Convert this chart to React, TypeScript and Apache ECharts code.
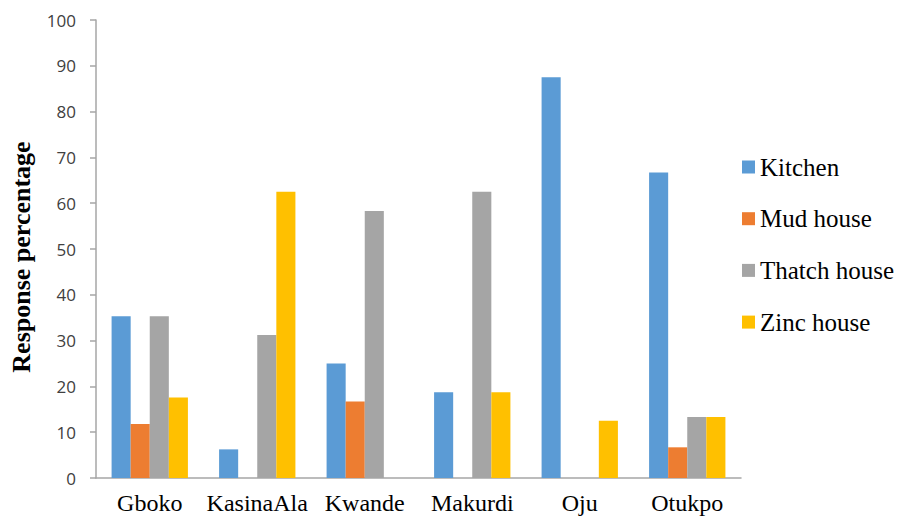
import React, { useEffect, useRef } from "react";
import * as echarts from "echarts";

const categories = ["Gboko", "KasinaAla", "Kwande", "Makurdi", "Oju", "Otukpo"];
const seriesNames = ["Kitchen", "Mud house", "Thatch house", "Zinc house"];
const kitchen = [35.3, 6.25, 25, 18.75, 87.5, 66.7];
const mudHouse = [11.8, 0, 16.7, 0, 0, 6.7];
const thatchHouse = [35.3, 31.25, 58.3, 62.5, 0, 13.3];
const zincHouse = [17.6, 62.5, 0, 18.75, 12.5, 13.3];
const colors = ["#5B9BD5", "#ED7D31", "#A5A5A5", "#FFC000"];

const serif = "Liberation Serif";

export default function App() {
  const ref = useRef<HTMLDivElement>(null);
  useEffect(() => {
    if (!ref.current) return;
    const chart = echarts.init(ref.current, undefined, { renderer: "svg" });
    const data = [kitchen, mudHouse, thatchHouse, zincHouse];
    chart.setOption({
      animation: false,
      backgroundColor: "#ffffff",
      color: colors,
      textStyle: { fontFamily: serif },
      grid: { left: 93, right: 156, top: 20, bottom: 44 },
      legend: {
        orient: "vertical",
        left: 737,
        top: 148,
        itemWidth: 13,
        itemHeight: 13,
        itemGap: 23.7,
        icon: "rect",
        data: seriesNames,
        textStyle: {
          fontFamily: serif,
          fontSize: 25,
          color: "#000000",
          lineHeight: 28,
        },
      },
      xAxis: {
        type: "category",
        data: categories,
        axisLine: { lineStyle: { color: "#A6A6A6", width: 1.5 } },
        axisTick: { length: 7, lineStyle: { color: "#A6A6A6", width: 1.5 } },
        axisLabel: {
          interval: 0,
          fontFamily: serif,
          fontSize: 24,
          color: "#000000",
          margin: 13,
        },
      },
      yAxis: {
        type: "value",
        min: 0,
        max: 100,
        interval: 10,
        name: "Response percentage",
        nameLocation: "middle",
        nameGap: 62,
        nameTextStyle: {
          fontFamily: serif,
          fontWeight: "bold",
          fontSize: 26,
          color: "#000000",
          padding: [0, 16, 0, 0],
        },
        splitLine: { show: false },
        axisLine: { show: true, lineStyle: { color: "#A6A6A6", width: 1.5 } },
        axisTick: { show: true, length: 6, lineStyle: { color: "#A6A6A6", width: 1.5 } },
        axisLabel: {
          fontFamily: "Open Sans",
          fontSize: 17,
          color: "#404040",
          margin: 20,
        },
      },
      series: seriesNames.map((name, i) => ({
        name,
        type: "bar",
        data: data[i],
        barGap: "0%",
        barCategoryGap: "29%",
        itemStyle: { color: colors[i] },
      })),
    });
    return () => chart.dispose();
  }, []);
  return (
    <div
      ref={ref}
      style={{ position: "fixed", left: 0, top: 0, width: 897, height: 522 }}
    />
  );
}
